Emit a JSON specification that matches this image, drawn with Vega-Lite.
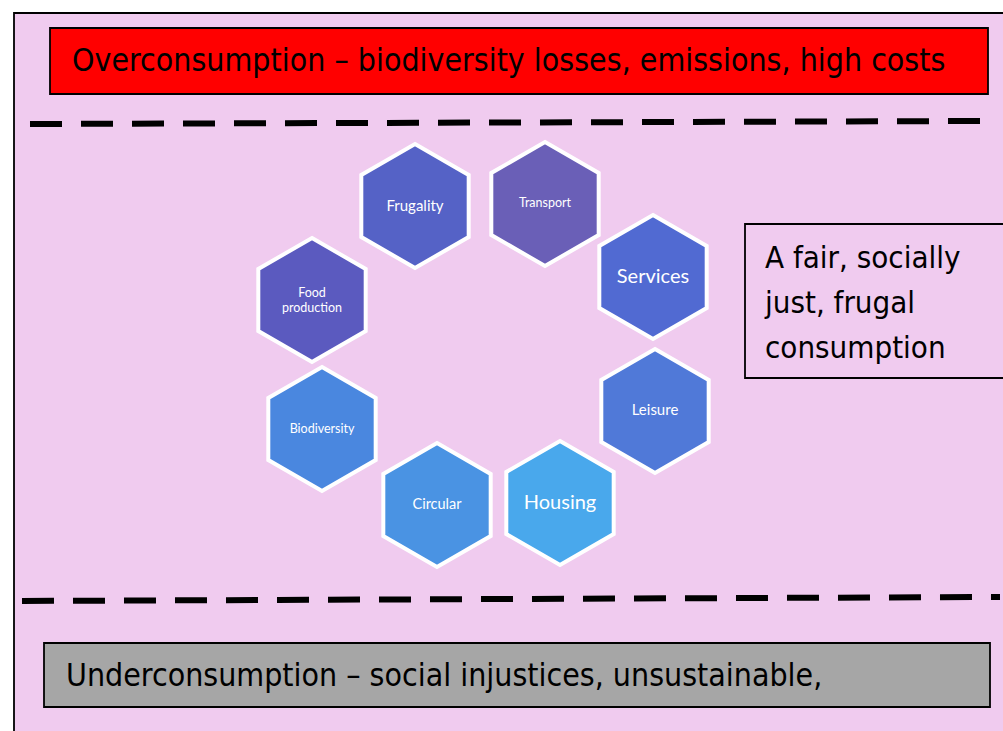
{
  "$schema": "https://vega.github.io/schema/vega-lite/v6.json",
  "width": 1003,
  "height": 731,
  "padding": 0,
  "autosize": {"type": "none"},
  "background": "white",
  "config": {"view": {"stroke": null}, "axis": {"disable": true}},
  "datasets": {
    "boxes": [
      {"box": "frame", "x": 14, "x2": 1012, "y": 13, "y2": 745},
      {"box": "over", "x": 50, "x2": 988, "y": 28, "y2": 94},
      {"box": "fair", "x": 745, "x2": 1012, "y": 224, "y2": 378},
      {"box": "under", "x": 44, "x2": 990, "y": 643, "y2": 707}
    ],
    "lines": [
      {"line": "upper", "x": 30, "x2": 985, "y": 124, "y2": 121},
      {"line": "lower", "x": 22, "x2": 1000, "y": 601, "y2": 597}
    ],
    "hexes": [
      {"label": "Frugality", "x": 415, "y": 206, "ty": 206},
      {"label": "Transport", "x": 545, "y": 204, "ty": 203},
      {"label": "Services", "x": 653, "y": 277, "ty": 277},
      {"label": "Food\nproduction", "x": 312, "y": 300, "ty": 293},
      {"label": "Leisure", "x": 655, "y": 411, "ty": 410},
      {"label": "Biodiversity", "x": 322, "y": 429, "ty": 429},
      {"label": "Circular", "x": 437, "y": 505, "ty": 505},
      {"label": "Housing", "x": 560, "y": 503, "ty": 503}
    ],
    "texts": [
      {"label": "Overconsumption – biodiversity losses, emissions, high costs", "x": 72, "y": 61},
      {"label": "Underconsumption – social injustices, unsustainable,", "x": 66, "y": 676}
    ],
    "side": [
      {"label": "A fair, socially\njust, frugal\nconsumption", "x": 765, "y": 268}
    ]
  },
  "layer": [
    {
      "data": {"name": "boxes"},
      "mark": {"type": "rect", "stroke": "black", "strokeWidth": 1.8},
      "encoding": {
        "x": {"field": "x", "type": "quantitative", "scale": {"domain": [0, 1003], "nice": false, "zero": false}},
        "x2": {"field": "x2"},
        "y": {"field": "y", "type": "quantitative", "scale": {"domain": [0, 731], "nice": false, "zero": false, "reverse": true}},
        "y2": {"field": "y2"},
        "color": {"field": "box", "type": "nominal", "legend": null,
          "scale": {"domain": ["frame", "over", "fair", "under"], "range": ["#F0CBEF", "#FF0000", "#F0CBEF", "#A6A6A6"]}}
      }
    },
    {
      "data": {"name": "lines"},
      "mark": {"type": "rule", "color": "black", "strokeWidth": 6, "strokeDash": [32, 19]},
      "encoding": {
        "x": {"field": "x", "type": "quantitative"},
        "x2": {"field": "x2"},
        "y": {"field": "y", "type": "quantitative"},
        "y2": {"field": "y2"}
      }
    },
    {
      "data": {"name": "hexes"},
      "mark": {"type": "point", "filled": true, "opacity": 1, "stroke": "white", "strokeWidth": 4,
        "shape": "M0,-1L0.866,-0.5L0.866,0.5L0,1L-0.866,0.5L-0.866,-0.5Z", "size": 15376},
      "encoding": {
        "x": {"field": "x", "type": "quantitative"},
        "y": {"field": "y", "type": "quantitative"},
        "fill": {"field": "label", "type": "nominal", "legend": null,
          "scale": {"domain": ["Frugality", "Transport", "Services", "Food\nproduction", "Leisure", "Biodiversity", "Circular", "Housing"],
            "range": ["#5562C6", "#6A5FB7", "#516AD2", "#5B5ABF", "#5079D8", "#4A87DF", "#4A93E3", "#49A8EC"]}}
      }
    },
    {
      "data": {"name": "hexes"},
      "mark": {"type": "text", "color": "white", "font": "Lato", "align": "center", "baseline": "middle", "lineBreak": "\n", "lineHeight": 15},
      "encoding": {
        "x": {"field": "x", "type": "quantitative"},
        "y": {"field": "ty", "type": "quantitative"},
        "text": {"field": "label"},
        "size": {"field": "label", "type": "nominal", "legend": null,
          "scale": {"type": "ordinal", "domain": ["Frugality", "Transport", "Services", "Food\nproduction", "Leisure", "Biodiversity", "Circular", "Housing"],
            "range": [15, 12.5, 20, 12.5, 15, 12.5, 14.5, 20]}}
      }
    },
    {
      "data": {"name": "texts"},
      "mark": {"type": "text", "color": "black", "font": "DejaVu Sans Condensed, Liberation Sans Narrow, sans-serif", "fontSize": 31.8, "align": "left", "baseline": "middle"},
      "encoding": {
        "x": {"field": "x", "type": "quantitative"},
        "y": {"field": "y", "type": "quantitative"},
        "text": {"field": "label"}
      }
    },
    {
      "data": {"name": "side"},
      "mark": {"type": "text", "color": "black", "font": "DejaVu Sans Condensed, sans-serif", "fontSize": 31, "align": "left", "baseline": "alphabetic", "lineBreak": "\n", "lineHeight": 45},
      "encoding": {
        "x": {"field": "x", "type": "quantitative"},
        "y": {"field": "y", "type": "quantitative"},
        "text": {"field": "label"}
      }
    }
  ]
}
